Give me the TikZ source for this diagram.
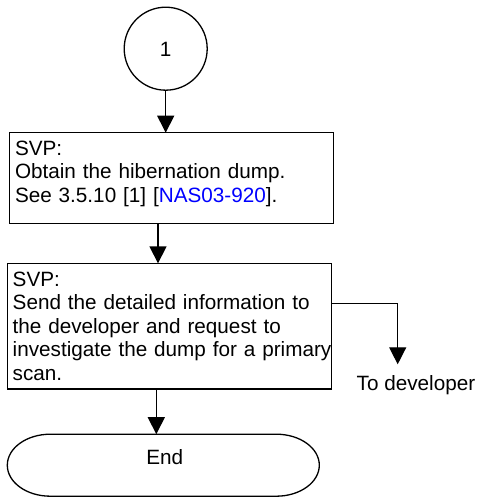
\documentclass[tikz,border=0pt]{standalone}
\usepackage{fontspec}
\setmainfont{Liberation Sans}
\usetikzlibrary{arrows.meta}
\definecolor{linkblue}{RGB}{0,0,255}
\begin{document}
\begin{tikzpicture}[x=1pt,y=-1pt,
  line width=1.3pt,
  every node/.style={font=\fontsize{20.7}{23.6}\selectfont, inner sep=0pt, outer sep=0pt},
  arr/.style={-{Triangle[length=17pt,width=17pt]}},
  box/.style={draw, rectangle},
  txt/.style={anchor=base west, align=left, text width=330pt}]
\useasboundingbox (0,0) rectangle (478,497);
% start connector
\node[draw, circle, minimum size=83pt] (c1) at (165.7,48.7) {};
\node (one) at (165.7,49.5) {1};
% boxes
\node[box, minimum width=324.4pt, minimum height=90.6pt] (b1) at (171.5,178) {};
\node[txt] (t1) at (15,155) {SVP:\\Obtain the hibernation dump.\\See 3.5.10 [1] [\textcolor{linkblue}{NAS03-920}].};
\node[box, minimum width=324.4pt, minimum height=125.7pt] (b2) at (169.5,326.2) {};
\node[txt] (t2) at (12.7,286) {SVP:\\Send the detailed information to\\the developer and request to\\investigate the dump for a primary\\scan.};
% end terminator
\node[minimum width=312pt, minimum height=62pt] (e) at (163.3,465.2) {};
\draw (50.3,434.2) -- (276.3,434.2) arc[start angle=-90,end angle=90,x radius=43,y radius=31]
      -- (50.3,496.2) arc[start angle=90,end angle=270,x radius=43,y radius=31] -- cycle;
\node[anchor=base] (endt) at (164.7,464) {End};
% side output
\node[anchor=base west] (td) at (356.7,390) {To developer};
% connectors
\coordinate (a2) at (158,0);
\coordinate (a3) at (156.3,0);
\coordinate (br) at (0,303.3);
\coordinate (bx) at (397.7,0);
\coordinate (tip) at (397.7,364.3);
\draw[arr] (c1.south) -- (c1.south |- b1.north);
\draw[arr] (b1.south -| a2) -- (b2.north -| a2);
\draw[arr] (b2.south -| a3) -- (e.north -| a3);
\draw[arr] (b2.east |- br) -- (bx |- br) -- (tip);
\end{tikzpicture}
\end{document}
